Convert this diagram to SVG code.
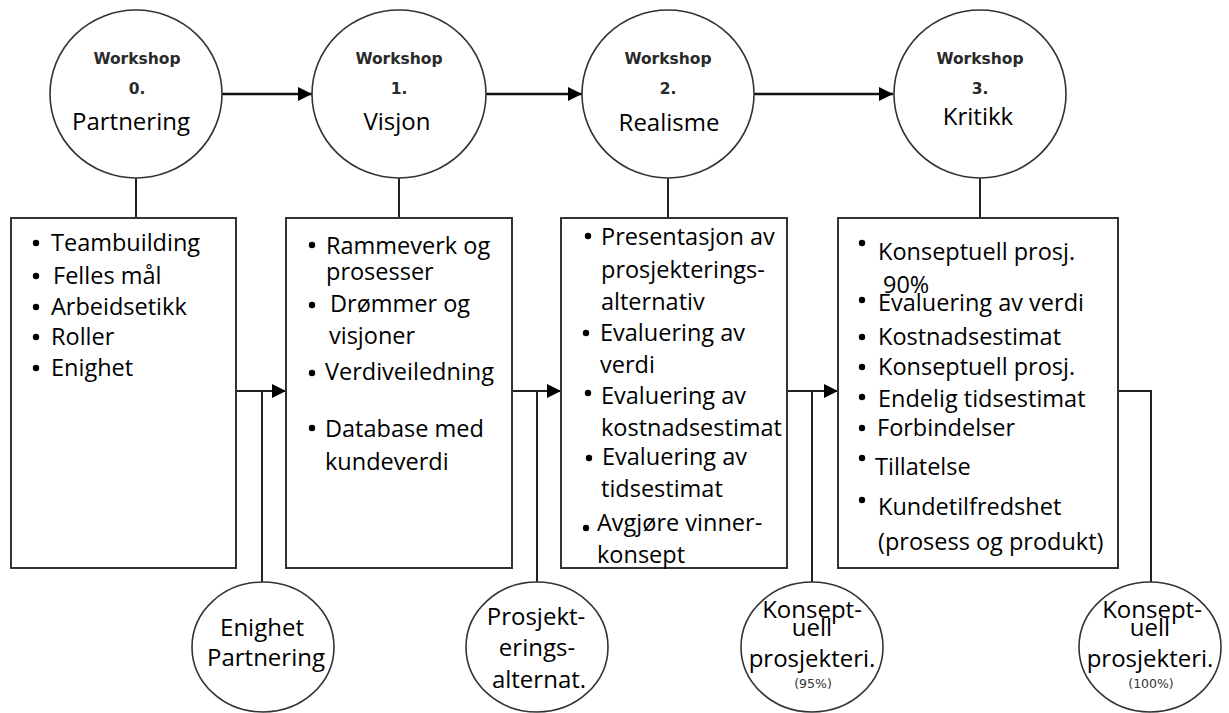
<svg xmlns="http://www.w3.org/2000/svg" width="1229" height="713" viewBox="0 0 1229 713">
  <style>
    .ws { fill: #fff; stroke: #333; stroke-width: 1.6; }
    .box { fill: #fff; stroke: #333; stroke-width: 2; }
    .hd { font-family: "DejaVu Sans", sans-serif; font-weight: bold; font-size: 15.5px; fill: #2a2a2a; text-anchor: middle; }
    .nm { font-family: "Open Sans", "Noto Sans", sans-serif; font-size: 24px; fill: #000; text-anchor: middle; }
    .tx { font-family: "Open Sans", "Noto Sans", sans-serif; font-size: 23.5px; fill: #000; }
    .sm { font-family: "DejaVu Sans", sans-serif; font-size: 12.5px; fill: #333; text-anchor: middle; }
    .dot { fill: #000; }
    .ln { stroke: #222; stroke-width: 2; fill: none; }
    .ar { stroke: #111; stroke-width: 2.6; fill: none; }
  </style>
  <defs>
    <marker id="head" viewBox="0 0 10 10" refX="10" refY="5" markerUnits="userSpaceOnUse" markerWidth="14" markerHeight="14" orient="auto">
      <path d="M0,0 L10,5 L0,10 z" fill="#000"/>
    </marker>
  </defs>

  <!-- connectors -->
  <g id="connectors">
    <!-- workshop sequence -->
    <line class="ar" x1="222" y1="94" x2="312" y2="94" marker-end="url(#head)"/>
    <line class="ar" x1="486" y1="94" x2="582" y2="94" stroke="#444" marker-end="url(#head)"/>
    <line class="ar" x1="754" y1="94" x2="893" y2="94" marker-end="url(#head)"/>
    <!-- workshop to content box -->
    <line class="ln" x1="136" y1="178" x2="136" y2="218"/>
    <line class="ln" x1="399" y1="178" x2="399" y2="218"/>
    <line class="ln" x1="668" y1="178" x2="668" y2="218"/>
    <line class="ln" x1="980" y1="178" x2="980" y2="218"/>
    <!-- box to box -->
    <line class="ln" x1="236" y1="391" x2="286" y2="391" marker-end="url(#head)"/>
    <line class="ln" x1="512" y1="391" x2="561" y2="391" marker-end="url(#head)"/>
    <line class="ln" x1="787" y1="391" x2="838" y2="391" marker-end="url(#head)"/>
    <!-- drops to results -->
    <line class="ln" x1="262" y1="391" x2="262" y2="582"/>
    <line class="ln" x1="537" y1="391" x2="537" y2="582"/>
    <line class="ln" x1="812" y1="391" x2="812" y2="582"/>
    <polyline class="ln" points="1118,391 1151,391 1151,582"/>
  </g>

  <!-- workshops -->
  <g id="ws0">
    <ellipse class="ws" cx="136" cy="94" rx="86" ry="84"/>
    <text class="hd" x="137" y="64">Workshop</text>
    <text class="hd" x="137" y="94">0.</text>
    <text class="nm" x="131" y="130">Partnering</text>
  </g>
  <g id="ws1">
    <ellipse class="ws" cx="399" cy="94" rx="87" ry="84"/>
    <text class="hd" x="399" y="64">Workshop</text>
    <text class="hd" x="399" y="94">1.</text>
    <text class="nm" x="397" y="130">Visjon</text>
  </g>
  <g id="ws2">
    <ellipse class="ws" cx="668" cy="94" rx="86" ry="84"/>
    <text class="hd" x="668" y="64">Workshop</text>
    <text class="hd" x="668" y="94">2.</text>
    <text class="nm" x="669" y="131">Realisme</text>
  </g>
  <g id="ws3">
    <ellipse class="ws" cx="980" cy="94" rx="86" ry="84"/>
    <text class="hd" x="980" y="64">Workshop</text>
    <text class="hd" x="980" y="94">3.</text>
    <text class="nm" x="978" y="125">Kritikk</text>
  </g>

  <!-- content boxes -->
  <g id="box0">
    <rect class="box" x="11" y="218" width="225" height="350"/>
    <circle class="dot" cx="36" cy="243" r="3.2"/>
    <circle class="dot" cx="36" cy="276" r="3.2"/>
    <circle class="dot" cx="36" cy="307" r="3.2"/>
    <circle class="dot" cx="36" cy="337" r="3.2"/>
    <circle class="dot" cx="36" cy="368" r="3.2"/>
    <text class="tx" x="51" y="251">Teambuilding</text>
    <text class="tx" x="53" y="284">Felles mål</text>
    <text class="tx" x="51" y="315">Arbeidsetikk</text>
    <text class="tx" x="51" y="345">Roller</text>
    <text class="tx" x="51" y="376">Enighet</text>
  </g>
  <g id="box1">
    <rect class="box" x="286" y="218" width="226" height="350"/>
    <circle class="dot" cx="312" cy="245" r="3.2"/>
    <circle class="dot" cx="312" cy="305" r="3.2"/>
    <circle class="dot" cx="312" cy="373" r="3.2"/>
    <circle class="dot" cx="312" cy="428" r="3.2"/>
    <text class="tx" x="326" y="254">Rammeverk og</text>
    <text class="tx" x="326" y="280">prosesser</text>
    <text class="tx" x="330" y="312">Drømmer og</text>
    <text class="tx" x="329" y="344">visjoner</text>
    <text class="tx" x="325" y="380">Verdiveiledning</text>
    <text class="tx" x="325" y="437">Database med</text>
    <text class="tx" x="325" y="470">kundeverdi</text>
  </g>
  <g id="box2">
    <rect class="box" x="561" y="218" width="226" height="350"/>
    <circle class="dot" cx="588" cy="236" r="3.2"/>
    <circle class="dot" cx="586" cy="333" r="3.2"/>
    <circle class="dot" cx="588" cy="393" r="3.2"/>
    <circle class="dot" cx="589" cy="458" r="3.2"/>
    <circle class="dot" cx="586" cy="528" r="3.2"/>
    <text class="tx" x="601" y="245">Presentasjon av</text>
    <text class="tx" x="601" y="278">prosjekterings-</text>
    <text class="tx" x="601" y="310">alternativ</text>
    <text class="tx" x="600" y="341">Evaluering av</text>
    <text class="tx" x="600" y="373">verdi</text>
    <text class="tx" x="601" y="404">Evaluering av</text>
    <text class="tx" x="601" y="436">kostnadsestimat</text>
    <text class="tx" x="602" y="465">Evaluering av</text>
    <text class="tx" x="601" y="497">tidsestimat</text>
    <text class="tx" x="597" y="531">Avgjøre vinner-</text>
    <text class="tx" x="597" y="563">konsept</text>
  </g>
  <g id="box3">
    <rect class="box" x="838" y="218" width="280" height="350"/>
    <circle class="dot" cx="862" cy="243" r="3.2"/>
    <circle class="dot" cx="862" cy="300" r="3.2"/>
    <circle class="dot" cx="862" cy="337" r="3.2"/>
    <circle class="dot" cx="862" cy="367" r="3.2"/>
    <circle class="dot" cx="862" cy="397" r="3.2"/>
    <circle class="dot" cx="862" cy="428" r="3.2"/>
    <circle class="dot" cx="862" cy="458" r="3.2"/>
    <circle class="dot" cx="862" cy="500" r="3.2"/>
    <text class="tx" x="878" y="260">Konseptuell prosj.</text>
    <text class="tx" x="883" y="293">90%</text>
    <text class="tx" x="878" y="311">Evaluering av verdi</text>
    <text class="tx" x="878" y="345">Kostnadsestimat</text>
    <text class="tx" x="878" y="375">Konseptuell prosj.</text>
    <text class="tx" x="878" y="407">Endelig tidsestimat</text>
    <text class="tx" x="877" y="436">Forbindelser</text>
    <text class="tx" x="875" y="475">Tillatelse</text>
    <text class="tx" x="878" y="515">Kundetilfredshet</text>
    <text class="tx" x="878" y="550">(prosess og produkt)</text>
  </g>

  <!-- results -->
  <g id="res0">
    <ellipse class="ws" cx="263" cy="647" rx="71" ry="65"/>
    <text class="nm" x="262" y="636">Enighet</text>
    <text class="nm" x="266" y="666">Partnering</text>
  </g>
  <g id="res1">
    <ellipse class="ws" cx="537" cy="647" rx="71" ry="65"/>
    <text class="nm" x="536" y="625">Prosjekt-</text>
    <text class="nm" x="537" y="656">erings-</text>
    <text class="nm" x="539" y="688">alternat.</text>
  </g>
  <g id="res2">
    <ellipse class="ws" cx="812" cy="647" rx="71" ry="65"/>
    <text class="nm" x="812" y="618">Konsept-</text>
    <text class="nm" x="812" y="636">uell</text>
    <text class="nm" x="812" y="667">prosjekteri.</text>
    <text class="sm" x="813" y="688">(95%)</text>
  </g>
  <g id="res3">
    <ellipse class="ws" cx="1150" cy="647" rx="71" ry="65"/>
    <text class="nm" x="1152" y="618">Konsept-</text>
    <text class="nm" x="1150" y="636">uell</text>
    <text class="nm" x="1150" y="667">prosjekteri.</text>
    <text class="sm" x="1151" y="688">(100%)</text>
  </g>
</svg>
